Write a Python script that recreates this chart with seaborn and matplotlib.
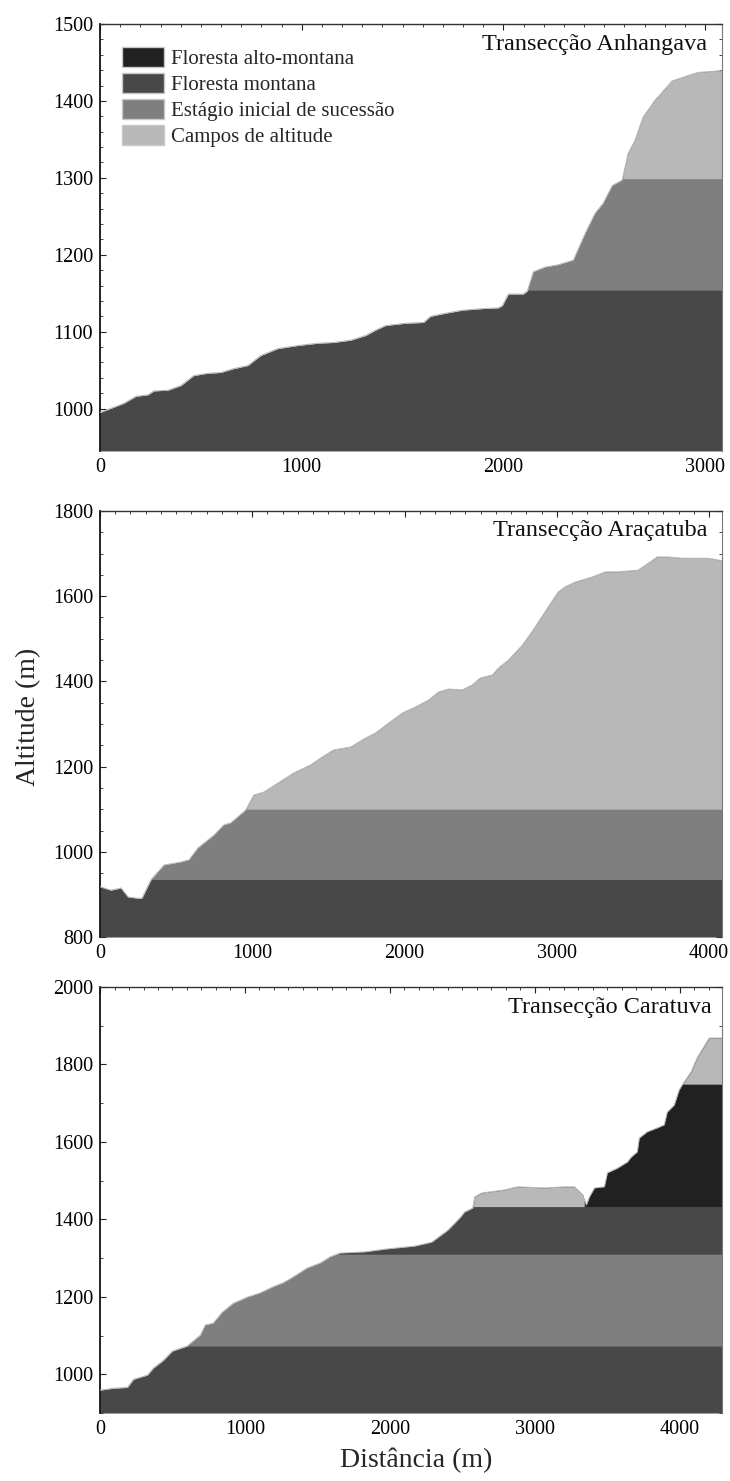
import numpy as np
import matplotlib
matplotlib.use("Agg")
import matplotlib.pyplot as plt
import seaborn as sns
from matplotlib.patches import Patch
from matplotlib.ticker import MultipleLocator

# ---------------- data ----------------
CATEGORIES = ["Floresta alto-montana", "Floresta montana",
              "Estágio inicial de sucessão", "Campos de altitude"]
CAT_COLORS = ["#212121", "#484848", "#7f7f7f", "#b8b8b8"]

TITLES = ["Transecção Anhangava", "Transecção Araçatuba", "Transecção Caratuva"]

# Transecção Anhangava
ANH_DIST = [0, 70, 119, 178, 238, 267, 337, 401, 465, 535, 599, 663, 733, 797, 881,
            980, 1079, 1158, 1243, 1317, 1366, 1416, 1515, 1604, 1639, 1713, 1797,
            1896, 1975, 1995, 2025, 2099, 2119, 2149, 2208, 2272, 2347, 2406, 2455,
            2495, 2540, 2589, 2619, 2653, 2693, 2752, 2837, 2916, 2965, 3064, 3084]
ANH_ALT = [995, 1002, 1007, 1016, 1018, 1023, 1024, 1030, 1043, 1046, 1047, 1052,
           1056, 1069, 1078, 1082, 1085, 1086, 1089, 1095, 1102, 1108, 1111, 1112,
           1120, 1124, 1128, 1130, 1131, 1134, 1149, 1149, 1153, 1178, 1184, 1187,
           1193, 1228, 1254, 1267, 1290, 1297, 1332, 1349, 1379, 1401, 1426, 1433,
           1437, 1439, 1439]
ANH_ZONE_BASE = [945, 1154, 1299]
ANH_ZONE_CAT = ["Floresta montana", "Estágio inicial de sucessão", "Campos de altitude"]
ANH_ZONE_FROM = [0, 0, 0]
ANH_ZONE_TO = [3084, 3084, 3084]

# Transecção Araçatuba
ARA_DIST = [0, 72, 138, 184, 249, 275, 334, 420, 531, 584, 643, 748, 813, 859, 957,
            1010, 1075, 1167, 1272, 1384, 1449, 1534, 1646, 1744, 1810, 1895, 1987,
            2072, 2157, 2223, 2289, 2380, 2446, 2498, 2577, 2616, 2682, 2774, 2859,
            2944, 3010, 3056, 3121, 3233, 3318, 3405, 3534, 3600, 3659, 3731, 3823,
            3928, 3993, 4059, 4085]
ARA_ALT = [918, 910, 915, 894, 891, 891, 934, 969, 976, 981, 1009, 1039, 1063, 1068,
           1098, 1133, 1140, 1161, 1185, 1204, 1220, 1239, 1246, 1267, 1279, 1302,
           1326, 1340, 1356, 1375, 1382, 1380, 1392, 1408, 1415, 1431, 1450, 1485,
           1528, 1575, 1610, 1622, 1633, 1645, 1657, 1657, 1661, 1677, 1692, 1692,
           1689, 1689, 1689, 1685, 1683]
ARA_ZONE_BASE = [800, 935, 1100]
ARA_ZONE_CAT = ["Floresta montana", "Estágio inicial de sucessão", "Campos de altitude"]
ARA_ZONE_FROM = [0, 0, 0]
ARA_ZONE_TO = [4085, 4085, 4085]

# Transecção Caratuva
CAR_DIST = [0, 93, 189, 231, 327, 368, 437, 499, 602, 692, 726, 781, 843, 919, 1015,
            1105, 1194, 1263, 1332, 1428, 1518, 1587, 1656, 1828, 1965, 2172, 2288,
            2400, 2481, 2515, 2571, 2585, 2633, 2791, 2881, 3066, 3204, 3272, 3329,
            3340, 3355, 3376, 3411, 3479, 3500, 3569, 3638, 3665, 3706, 3720, 3775,
            3844, 3892, 3913, 3961, 3995, 4016, 4078, 4119, 4202, 4290]
CAR_ALT = [959, 964, 966, 987, 998, 1016, 1036, 1060, 1073, 1101, 1127, 1132, 1160,
           1183, 1199, 1210, 1226, 1236, 1251, 1274, 1287, 1303, 1313, 1316, 1323,
           1331, 1341, 1372, 1403, 1419, 1429, 1458, 1468, 1476, 1484, 1481, 1484,
           1484, 1463, 1450, 1437, 1458, 1481, 1484, 1520, 1532, 1548, 1561, 1574,
           1610, 1626, 1636, 1644, 1677, 1695, 1734, 1747, 1781, 1817, 1868, 1868]
CAR_ZONE_BASE = [900, 1073, 1310, 1433, 1433, 1749]
CAR_ZONE_CAT = ["Floresta montana", "Estágio inicial de sucessão", "Floresta montana",
                "Campos de altitude", "Floresta alto-montana", "Campos de altitude"]
CAR_ZONE_FROM = [0, 0, 0, 0, 3340, 3340]
CAR_ZONE_TO = [4290, 4290, 4290, 3340, 4290, 4290]

XLIMS = [(0, 3084), (0, 4085), (0, 4290)]
YLIMS = [(945, 1500), (800, 1800), (900, 2000)]
Y_MAJOR = [100, 200, 200]
Y_MINOR = [20, 50, 100]

# ---------------- style ----------------
sns.set_theme(style="ticks")
plt.rcParams["font.family"] = ["Liberation Serif", "DejaVu Serif"]
plt.rcParams["axes.facecolor"] = "white"

color_of = dict(zip(CATEGORIES, CAT_COLORS))

fig = plt.figure(figsize=(7.30, 14.81), dpi=100)
positions = [
    [0.137, 0.6955, 0.852, 0.2883],
    [0.137, 0.3673, 0.852, 0.2877],
    [0.137, 0.0459, 0.852, 0.2877],
]
panels = [
    (ANH_DIST, ANH_ALT, ANH_ZONE_BASE, ANH_ZONE_CAT, ANH_ZONE_FROM, ANH_ZONE_TO),
    (ARA_DIST, ARA_ALT, ARA_ZONE_BASE, ARA_ZONE_CAT, ARA_ZONE_FROM, ARA_ZONE_TO),
    (CAR_DIST, CAR_ALT, CAR_ZONE_BASE, CAR_ZONE_CAT, CAR_ZONE_FROM, CAR_ZONE_TO),
]
title_pos = [(0.976, 0.951), (0.976, 0.955), (0.984, 0.951)]

axes = []
for i, (pos, (dist, alt, zb, zc, zf, zt)) in enumerate(zip(positions, panels)):
    ax = fig.add_axes(pos)
    axes.append(ax)
    x = np.asarray(dist, dtype=float)
    y = np.asarray(alt, dtype=float)
    for base, cat, x0, x1 in zip(zb, zc, zf, zt):
        mask = (y > base) & (x >= x0) & (x <= x1)
        ax.fill_between(x, base, y, where=mask, interpolate=True,
                        color=color_of[cat], lw=0, zorder=2)
    sns.lineplot(x=x, y=y, ax=ax, color="#b4b4b4", lw=0.7, estimator=None,
                 sort=False, zorder=3)
    ax.set_xlim(*XLIMS[i])
    ax.set_ylim(*YLIMS[i])
    ax.set_xlabel("")
    ax.set_ylabel("")
    ax.xaxis.set_major_locator(MultipleLocator(1000))
    ax.xaxis.set_minor_locator(MultipleLocator(100))
    ax.yaxis.set_major_locator(MultipleLocator(Y_MAJOR[i]))
    ax.yaxis.set_minor_locator(MultipleLocator(Y_MINOR[i]))
    ax.tick_params(axis="x", which="both", bottom=False, top=True, direction="in",
                   labelbottom=True, labelsize=14.5, pad=5, colors="#222222",
                   labelcolor="black")
    ax.tick_params(axis="x", which="major", length=4, width=0.8)
    ax.tick_params(axis="x", which="minor", length=2.5, width=0.6)
    ax.tick_params(axis="y", which="both", left=True, right=True, direction="in",
                   labelsize=14.5, pad=5, colors="#222222", labelcolor="black")
    ax.tick_params(axis="y", which="major", length=4, width=0.8)
    ax.tick_params(axis="y", which="minor", length=2, width=0.6)
    ax.spines["bottom"].set_visible(False)
    ax.spines["left"].set_color("#111111")
    ax.spines["left"].set_linewidth(1.3)
    ax.spines["top"].set_color("#333333")
    ax.spines["top"].set_linewidth(1.0)
    ax.spines["right"].set_color("#777777")
    ax.spines["right"].set_linewidth(0.8)
    ax.text(title_pos[i][0], title_pos[i][1], TITLES[i], transform=ax.transAxes,
            ha="right", va="center", fontsize=17.5, color="#111111", zorder=5)
    ax.grid(False)

handles = [Patch(facecolor=c, edgecolor="#c8c8c8", linewidth=1.0) for c in CAT_COLORS]
axes[0].legend(handles, CATEGORIES, loc="upper left", bbox_to_anchor=(0.036, 0.945),
               frameon=False, fontsize=15, handlelength=2.0, handleheight=1.05,
               handletextpad=0.35, labelspacing=0.2, borderpad=0, borderaxespad=0)

fig.text(0.039, 0.516, "Altitude (m)", rotation=90, ha="center", va="center",
         fontsize=20)
fig.text(0.57, 0.014, "Distância (m)", ha="center", va="center", fontsize=20)

fig.savefig("out.png", dpi=100, facecolor="white")
